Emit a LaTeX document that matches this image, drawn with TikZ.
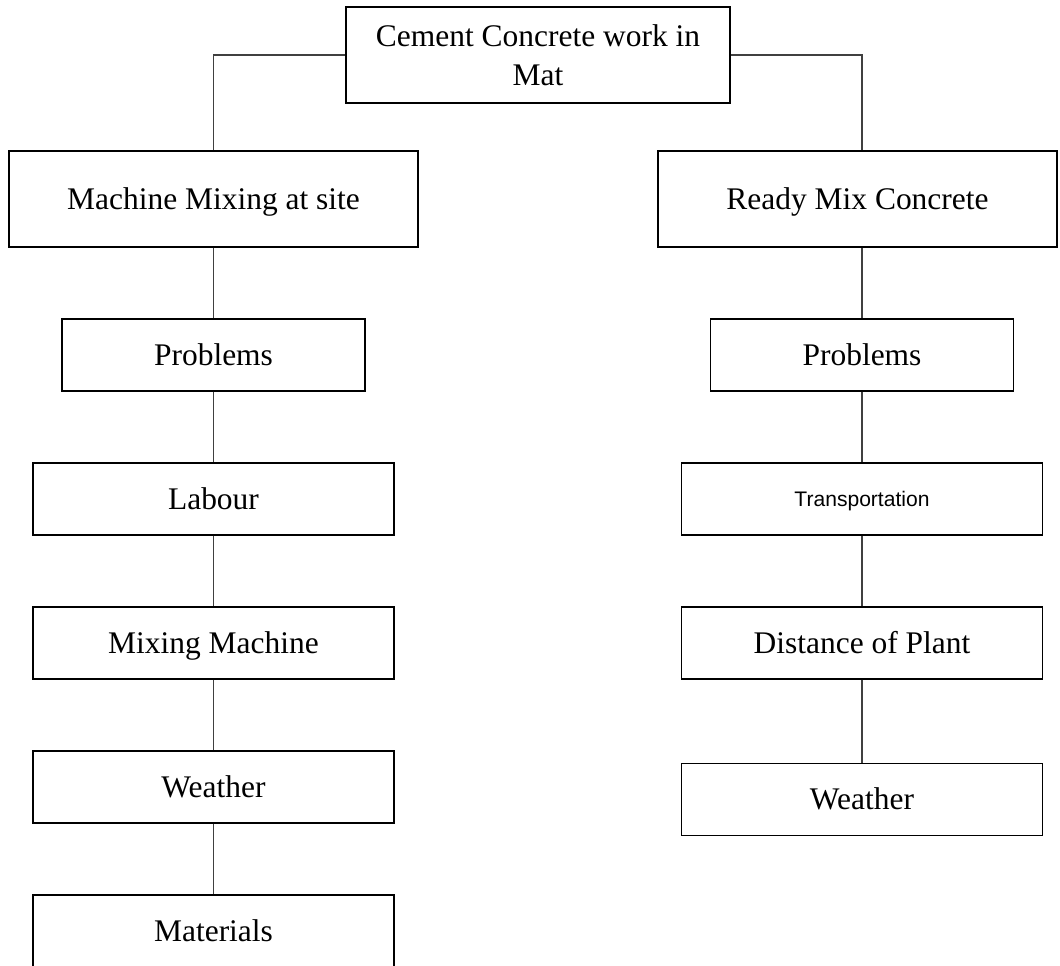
\documentclass[tikz,border=0pt]{standalone}
\usepackage{fontspec}
\setmainfont{Liberation Serif}
\newfontfamily\arialf{Liberation Sans}
\begin{document}
\begin{tikzpicture}[x=0.75pt,y=-0.75pt,
  box/.style={draw=black,line width=0.8pt,rectangle,inner sep=0pt,align=center,
    font=\fontsize{23.6}{29}\selectfont},
  one/.style={box,text height=20pt,text depth=4.4pt},
  wide/.style={one,minimum width=409*0.75pt,minimum height=96*0.75pt},
  mid/.style={one,minimum width=303*0.75pt,minimum height=72*0.75pt},
  big/.style={one,minimum width=361*0.75pt,minimum height=72*0.75pt},
  link/.style={draw=black!75,line width=0.8pt}]
\useasboundingbox (0,0) rectangle (1060,966);
\node[box,minimum width=384*0.75pt,minimum height=96*0.75pt] (top) at (538,55) {Cement Concrete work in\\Mat};
\node[wide] (mm) at (213.5,199) {Machine Mixing at site};
\node[one,minimum width=399*0.75pt,minimum height=96*0.75pt] (rmc) at (857.5,199) {Ready Mix Concrete};
\node[mid] (pl) at (213.5,355) {Problems};
\node[big] (lab) at (213.5,499) {Labour};
\node[big] (mix) at (213.5,643) {Mixing Machine};
\node[big] (wl) at (213.5,787) {Weather};
\node[big] (mat) at (213.5,931) {Materials};
\node[mid] (pr) at (862,355) {Problems};
\node[big,font=\arialf\fontsize{15.8}{19}\selectfont,text height=15pt,text depth=3.6pt] (tr) at (862,499) {Transportation};
\node[big] (dist) at (862,643) {Distance of Plant};
\node[big] (wr) at (862,799.5) {Weather};
\draw[link] (top.west) -| (mm.north);
\draw[link] (top.east) -| (rmc.north -| pr.north);
\draw[link] (mm.south) -- (pl.north);
\draw[link] (pl.south) -- (lab.north);
\draw[link] (lab.south) -- (mix.north);
\draw[link] (mix.south) -- (wl.north);
\draw[link] (wl.south) -- (mat.north);
\draw[link] (rmc.south -| pr.north) -- (pr.north);
\draw[link] (pr.south) -- (tr.north);
\draw[link] (tr.south) -- (dist.north);
\draw[link] (dist.south) -- (wr.north);
\end{tikzpicture}
\end{document}
